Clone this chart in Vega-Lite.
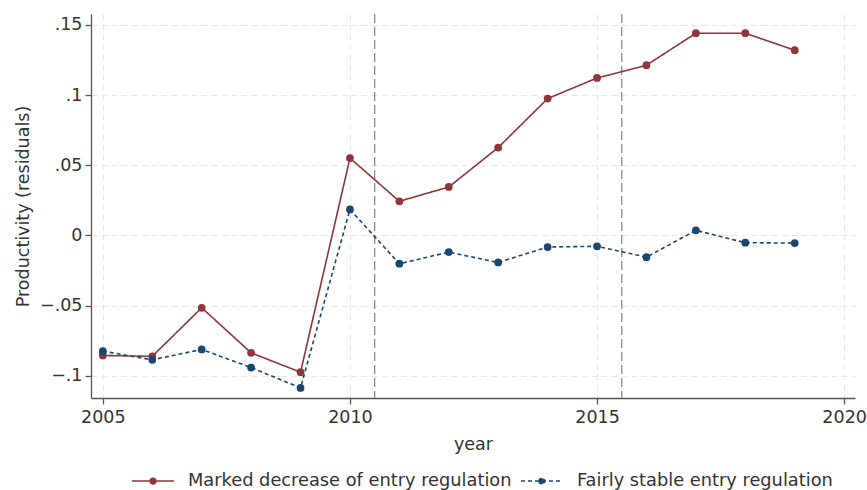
{
  "$schema": "https://vega.github.io/schema/vega-lite/v6.json",
  "width": 764,
  "height": 384,
  "autosize": {"type": "none"},
  "padding": {"left": 91, "top": 14, "right": 12, "bottom": 92},
  "background": "white",
  "config": {
    "font": "DejaVu Sans",
    "view": {"stroke": null},
    "axis": {
      "domainColor": "#555555",
      "domainWidth": 1.3,
      "tickColor": "#555555",
      "tickWidth": 1.3,
      "tickSize": 6,
      "labelColor": "#333333",
      "titleColor": "#333333",
      "labelFontSize": 17.5,
      "titleFontSize": 17.5,
      "titleFontWeight": "normal",
      "gridColor": "#e6e6e6",
      "gridDash": [6, 4],
      "gridWidth": 1
    }
  },
  "datasets": {
    "series": [
      {"year": 2005, "group": "Marked decrease of entry regulation", "value": -0.0856},
      {"year": 2006, "group": "Marked decrease of entry regulation", "value": -0.0862},
      {"year": 2007, "group": "Marked decrease of entry regulation", "value": -0.0516},
      {"year": 2008, "group": "Marked decrease of entry regulation", "value": -0.0837},
      {"year": 2009, "group": "Marked decrease of entry regulation", "value": -0.0975},
      {"year": 2010, "group": "Marked decrease of entry regulation", "value": 0.0551},
      {"year": 2011, "group": "Marked decrease of entry regulation", "value": 0.0243},
      {"year": 2012, "group": "Marked decrease of entry regulation", "value": 0.0345},
      {"year": 2013, "group": "Marked decrease of entry regulation", "value": 0.0626},
      {"year": 2014, "group": "Marked decrease of entry regulation", "value": 0.0975},
      {"year": 2015, "group": "Marked decrease of entry regulation", "value": 0.1122},
      {"year": 2016, "group": "Marked decrease of entry regulation", "value": 0.1213},
      {"year": 2017, "group": "Marked decrease of entry regulation", "value": 0.1441},
      {"year": 2018, "group": "Marked decrease of entry regulation", "value": 0.1441},
      {"year": 2019, "group": "Marked decrease of entry regulation", "value": 0.132},
      {"year": 2005, "group": "Fairly stable entry regulation", "value": -0.0825},
      {"year": 2006, "group": "Fairly stable entry regulation", "value": -0.0887},
      {"year": 2007, "group": "Fairly stable entry regulation", "value": -0.0813},
      {"year": 2008, "group": "Fairly stable entry regulation", "value": -0.0942},
      {"year": 2009, "group": "Fairly stable entry regulation", "value": -0.1087},
      {"year": 2010, "group": "Fairly stable entry regulation", "value": 0.0185},
      {"year": 2011, "group": "Fairly stable entry regulation", "value": -0.0202},
      {"year": 2012, "group": "Fairly stable entry regulation", "value": -0.0119},
      {"year": 2013, "group": "Fairly stable entry regulation", "value": -0.0193},
      {"year": 2014, "group": "Fairly stable entry regulation", "value": -0.0083},
      {"year": 2015, "group": "Fairly stable entry regulation", "value": -0.0078},
      {"year": 2016, "group": "Fairly stable entry regulation", "value": -0.0155},
      {"year": 2017, "group": "Fairly stable entry regulation", "value": 0.0036},
      {"year": 2018, "group": "Fairly stable entry regulation", "value": -0.0052},
      {"year": 2019, "group": "Fairly stable entry regulation", "value": -0.0055}
    ],
    "refs": [{"year": 2010.5}, {"year": 2015.5}]
  },
  "layer": [
    {
      "data": {"name": "refs"},
      "mark": {"type": "rule", "color": "#8a8a8a", "strokeWidth": 1.3, "strokeDash": [9, 4]},
      "encoding": {
        "x": {"field": "year", "type": "quantitative"}
      }
    },
    {
      "data": {"name": "series"},
      "mark": {"type": "line", "strokeWidth": 1.6},
      "encoding": {
        "x": {
          "field": "year",
          "type": "quantitative",
          "scale": {"domain": [2004.76, 2020.22], "nice": false, "zero": false},
          "axis": {"values": [2005, 2010, 2015, 2020], "format": "d", "title": "year", "labelPadding": 4, "titlePadding": 10, "grid": true}
        },
        "y": {
          "field": "value",
          "type": "quantitative",
          "scale": {"domain": [-0.1159, 0.1578], "nice": false, "zero": false},
          "axis": {
            "values": [-0.1, -0.05, 0, 0.05, 0.1, 0.15],
            "labelExpr": "replace(format(datum.value, '.2~f'), '0.', '.')",
            "title": "Productivity (residuals)",
            "labelAngle": 0,
            "labelPadding": 3,
            "titlePadding": 7,
            "grid": true
          }
        },
        "color": {
          "field": "group",
          "type": "nominal",
          "scale": {
            "domain": ["Marked decrease of entry regulation", "Fairly stable entry regulation"],
            "range": ["#90353b", "#1a476f"]
          },
          "legend": {
            "title": null,
            "orient": "none",
            "direction": "horizontal",
            "legendX": 40,
            "legendY": 445,
            "symbolType": "M-1,0L1,0M-0.14,0A0.14,0.14,0,1,0,0.14,0A0.14,0.14,0,1,0,-0.14,0Z",
            "symbolSize": 1764,
            "symbolStrokeWidth": 1.5,
            "labelFontSize": 17.8,
            "labelColor": "#333333",
            "labelOffset": 13,
            "labelLimit": 500,
            "columnPadding": 6,
            "encode": {"symbols": {"update": {"fill": {"scale": "color", "field": "value"}}}}
          }
        },
        "strokeDash": {
          "field": "group",
          "type": "nominal",
          "scale": {
            "domain": ["Marked decrease of entry regulation", "Fairly stable entry regulation"],
            "range": [[1, 0], [4, 3]]
          },
          "legend": {"title": null}
        }
      }
    },
    {
      "data": {"name": "series"},
      "mark": {"type": "point", "filled": true, "size": 60, "opacity": 1},
      "encoding": {
        "x": {"field": "year", "type": "quantitative"},
        "y": {"field": "value", "type": "quantitative"},
        "color": {"field": "group", "type": "nominal"}
      }
    }
  ]
}
